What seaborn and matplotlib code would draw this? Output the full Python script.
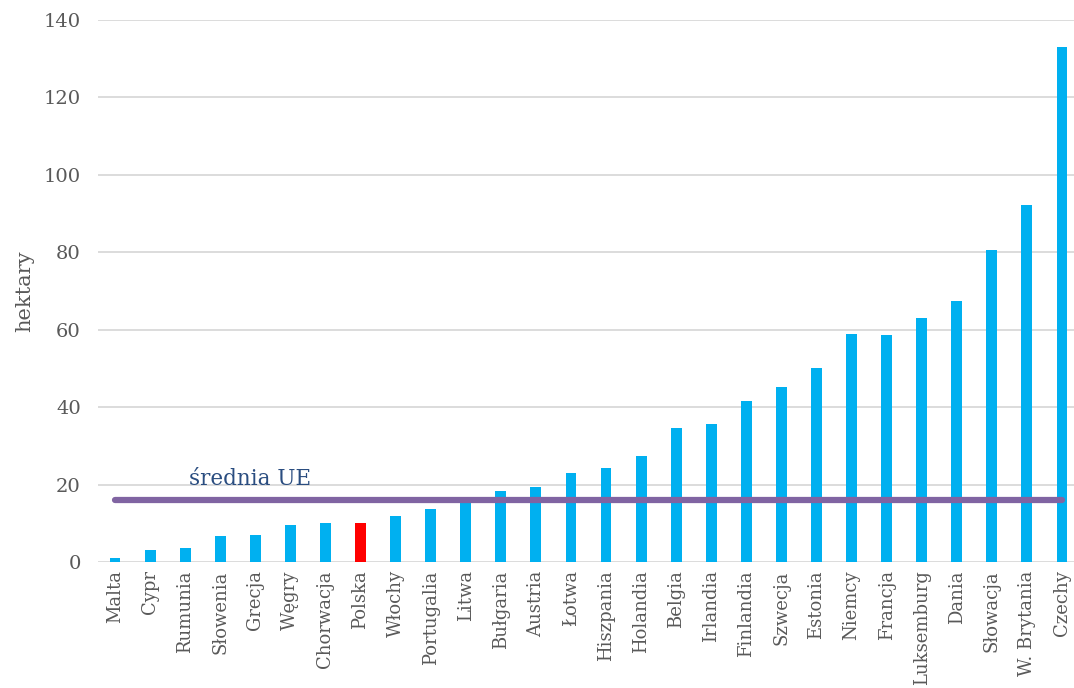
import matplotlib
matplotlib.use("Agg")
import matplotlib.pyplot as plt
import seaborn as sns
import pandas as pd

# Average farm size by EU member state (hectares)
countries = ["Malta", "Cypr", "Rumunia", "Słowenia", "Grecja", "Węgry", "Chorwacja",
             "Polska", "Włochy", "Portugalia", "Litwa", "Bułgaria", "Austria", "Łotwa",
             "Hiszpania", "Holandia", "Belgia", "Irlandia", "Finlandia", "Szwecja",
             "Estonia", "Niemcy", "Francja", "Luksemburg", "Dania", "Słowacja",
             "W. Brytania", "Czechy"]
hectares = [1.1, 3.0, 3.6, 6.7, 6.9, 9.5, 10.0, 10.1, 12.0, 13.8, 15.5, 18.3, 19.4,
            23.0, 24.2, 27.4, 34.6, 35.7, 41.6, 45.3, 50.1, 58.8, 58.7, 63.0, 67.3,
            80.5, 92.3, 133.0]
eu_average = 16.1
highlight = "Polska"

df = pd.DataFrame({"kraj": countries, "ha": hectares})
palette = {c: ("#FF0000" if c == highlight else "#00B0F0") for c in countries}

sns.set_theme(style="white")
plt.rcParams["font.family"] = ["DejaVu Serif"]

fig = plt.figure(figsize=(10.74, 6.88), dpi=100)
ax = fig.add_axes([97.5 / 1074, 1 - 562 / 688, 982 / 1074, 542 / 688])

sns.barplot(data=df, x="kraj", y="ha", hue="kraj", palette=palette, legend=False,
            width=0.31, saturation=1, ax=ax, zorder=2, edgecolor="none")

# EU average line across all categories
avg_df = pd.DataFrame({"kraj": countries, "avg": [eu_average] * len(countries)})
sns.lineplot(data=avg_df, x="kraj", y="avg", ax=ax, color="#8064A2", linewidth=4.5,
             solid_capstyle="round", zorder=3, sort=False)
ax.text(2.1, eu_average + 2.6, "średnia UE", color="#2A4D80", fontsize=15.5,
        ha="left", va="bottom", zorder=4)

ax.set_ylim(0, 140)
ax.set_xlim(-0.5, len(countries) - 0.5)
ax.set_yticks(range(0, 141, 20))
ax.yaxis.grid(True, color="#D9D9D9", linewidth=1.3, zorder=0)
ax.xaxis.grid(False)
for s in ax.spines.values():
    s.set_visible(False)

ax.set_xlabel("")
ax.set_ylabel("hektary", color="#595959", fontsize=15, labelpad=7)
ax.tick_params(axis="y", colors="#595959", labelsize=14, length=0, pad=12)
ax.tick_params(axis="x", colors="#595959", labelsize=13, length=0, pad=6)
plt.setp(ax.get_xticklabels(), rotation=90, va="top", ha="center")

fig.savefig("out.png", dpi=100)
